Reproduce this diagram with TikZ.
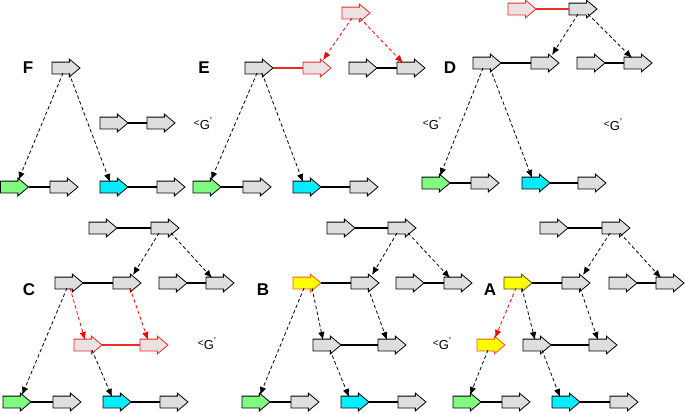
\documentclass[tikz,border=0pt]{standalone}
\usepackage{fontspec}
\setmainfont{Liberation Sans}
\usetikzlibrary{shapes.arrows,arrows.meta,calc}
\definecolor{gfill}{RGB}{222,222,222}
\definecolor{rfill}{RGB}{236,226,226}
\definecolor{gngreen}{RGB}{128,250,128}
\definecolor{gncyan}{RGB}{0,238,255}
\definecolor{gnyellow}{RGB}{255,255,0}
\definecolor{redline}{RGB}{240,40,40}
\definecolor{orangeline}{RGB}{240,90,20}
\definecolor{oliveline}{RGB}{90,80,0}
\tikzset{
  gene/.style={single arrow, draw=black, line width=0.8pt, fill=gfill,
    minimum height=28pt, minimum width=0pt, inner xsep=0pt, inner ysep=5.5pt,
    single arrow head extend=3pt, single arrow tip angle=80,
    anchor=tail, outer sep=0pt},
  gred/.style={gene, draw=redline, fill=rfill},
  ggreen/.style={gene, fill=gngreen},
  gcyan/.style={gene, fill=gncyan},
  gyel/.style={gene, fill=gnyellow, draw=orangeline},
  gyeldark/.style={gene, fill=gnyellow, draw=oliveline},
  link/.style={line width=1.1pt},
  rlink/.style={link, draw=redline},
  dep/.style={dash pattern=on 3.5pt off 2.5pt, line width=0.8pt, -{Latex[length=8pt,width=6.5pt]}},
  rdep/.style={dep, color=red},
  plabel/.style={font=\bfseries\fontsize{17}{17}\selectfont, inner sep=0pt},
  glabel/.style={font=\fontsize{13}{13}\selectfont, inner sep=0pt}
}
\newcommand{\gsym}{\raisebox{3.5pt}{\fontsize{10}{10}\selectfont<}G\raisebox{5pt}{\fontsize{10}{10}\selectfont'}}
\begin{document}
\begin{tikzpicture}[x=1pt,y=-1pt]
\useasboundingbox (0,0) rectangle (685,413);

% ---------- Panel F ----------
\node[plabel] (lF) at (28,68) {F};
\node[gene] (F1) at (52,68) {};
\node[gene] (F2a) at (100,123) {};
\node[gene] (F2b) at (147,123) {};
\node[ggreen] (Fg) at (0.5,187) {};
\node[gene] (Fg2) at (50,187) {};
\node[gcyan] (Fc) at (100,187) {};
\node[gene] (Fc2) at (157,187) {};
\draw[link] (F2a.tip) -- (F2b.tail);
\draw[link] (Fg.tip) -- (Fg2.tail);
\draw[link] (Fc.tip) -- (Fc2.tail);
\draw[dep] ($(F1.tail)+(11,5)$) -- ($(Fg.tail)+(18,-7)$);
\draw[dep] ($(F1.tail)+(17,5)$) -- ($(Fc.tail)+(10,-5)$);
\node[glabel] (g1) at (203,124) {\gsym};

% ---------- Panel E ----------
\node[plabel] (lE) at (204,68) {E};
\node[gene] (E1) at (245,68) {};
\node[gred] (E2) at (303,68) {};
\node[gred] (Et) at (342,13) {};
\node[gene] (E3a) at (349,68) {};
\node[gene] (E3b) at (397,68) {};
\node[ggreen] (Eg) at (193,187) {};
\node[gene] (Eg2) at (243,187) {};
\node[gcyan] (Ec) at (293,187) {};
\node[gene] (Ec2) at (350,187) {};
\draw[rlink] (E1.tip) -- (E2.tail);
\draw[link] (E3a.tip) -- (E3b.tail);
\draw[link] (Eg.tip) -- (Eg2.tail);
\draw[link] (Ec.tip) -- (Ec2.tail);
\draw[rdep] ($(Et.tail)+(10,5)$) -- ($(E2.tail)+(20,-8)$);
\draw[rdep] ($(Et.tail)+(18,5)$) -- ($(E3b.tail)+(6,-5)$);
\draw[dep] ($(E1.tail)+(12,5)$) -- ($(Eg.tail)+(18,-7)$);
\draw[dep] ($(E1.tail)+(17,5)$) -- ($(Ec.tail)+(10,-5)$);

% ---------- Panel D ----------
\node[plabel] (lD) at (450,68) {D};
\node[gred] (Dt1) at (508,9) {};
\node[gene] (Dt2) at (569,9) {};
\node[gene] (D1) at (473,63) {};
\node[gene] (D2) at (531,63) {};
\node[gene] (D3a) at (577,63) {};
\node[gene] (D3b) at (624,63) {};
\node[ggreen] (Dg) at (422,183) {};
\node[gene] (Dg2) at (471,183) {};
\node[gcyan] (Dc) at (522,183) {};
\node[gene] (Dc2) at (578,183) {};
\draw[rlink] (Dt1.tip) -- (Dt2.tail);
\draw[link] (D1.tip) -- (D2.tail);
\draw[link] (D3a.tip) -- (D3b.tail);
\draw[link] (Dg.tip) -- (Dg2.tail);
\draw[link] (Dc.tip) -- (Dc2.tail);
\draw[dep] ($(Dt2.tail)+(9,5)$) -- ($(D2.tail)+(21,-8)$);
\draw[dep] ($(Dt2.tail)+(19,5)$) -- ($(D3b.tail)+(8,-5)$);
\draw[dep] ($(D1.tail)+(10,5)$) -- ($(Dg.tail)+(18,-7)$);
\draw[dep] ($(D1.tail)+(17,5)$) -- ($(Dc.tail)+(10,-5)$);
\node[glabel] (g2) at (432,124) {\gsym};
\node[glabel] (g3) at (613,125) {\gsym};

% ---------- Panel C ----------
\node[plabel] (lC) at (29,290) {C};
\node[gene] (Ct1) at (89,228) {};
\node[gene] (Ct2) at (151,228) {};
\node[gene] (C1) at (55,283) {};
\node[gene] (C2) at (113,283) {};
\node[gene] (C3a) at (159,283) {};
\node[gene] (C3b) at (206,283) {};
\node[gred] (Cr1) at (74,345) {};
\node[gred] (Cr2) at (140,345) {};
\node[ggreen] (Cg) at (3,402) {};
\node[gene] (Cg2) at (53,402) {};
\node[gcyan] (Cc) at (103,402) {};
\node[gene] (Cc2) at (160,402) {};
\draw[link] (Ct1.tip) -- (Ct2.tail);
\draw[link] (C1.tip) -- (C2.tail);
\draw[link] (C3a.tip) -- (C3b.tail);
\draw[rlink] (Cr1.tip) -- (Cr2.tail);
\draw[link] (Cg.tip) -- (Cg2.tail);
\draw[link] (Cc.tip) -- (Cc2.tail);
\draw[dep] ($(Ct2.tail)+(8,5)$) -- ($(C2.tail)+(20,-8)$);
\draw[dep] ($(Ct2.tail)+(20,5)$) -- ($(C3b.tail)+(6,-5)$);
\draw[rdep] ($(C1.tail)+(15,5)$) -- ($(Cr1.tail)+(11,-5)$);
\draw[rdep] ($(C2.tail)+(17,5)$) -- ($(Cr2.tail)+(8,-5)$);
\draw[dep] ($(C1.tail)+(12,5)$) -- ($(Cg.tail)+(19,-7)$);
\draw[dep] ($(Cr1.tail)+(18,5)$) -- ($(Cc.tail)+(9,-5)$);
\node[glabel] (g4) at (207,344) {\gsym};

% ---------- Panel B ----------
\node[plabel] (lB) at (263,290) {B};
\node[gene] (Bt1) at (327,228) {};
\node[gene] (Bt2) at (388,228) {};
\node[gyel] (B1) at (293,283) {};
\node[gene] (B2) at (351,283) {};
\node[gene] (B3a) at (396,283) {};
\node[gene] (B3b) at (444,283) {};
\node[gene] (Br1) at (313,345) {};
\node[gene] (Br2) at (378,345) {};
\node[ggreen] (Bg) at (242,402) {};
\node[gene] (Bg2) at (291,402) {};
\node[gcyan] (Bc) at (341,402) {};
\node[gene] (Bc2) at (398,402) {};
\draw[link] (Bt1.tip) -- (Bt2.tail);
\draw[link] (B1.tip) -- (B2.tail);
\draw[link] (B3a.tip) -- (B3b.tail);
\draw[link] (Br1.tip) -- (Br2.tail);
\draw[link] (Bg.tip) -- (Bg2.tail);
\draw[link] (Bc.tip) -- (Bc2.tail);
\draw[dep] ($(Bt2.tail)+(9,5)$) -- ($(B2.tail)+(21,-8)$);
\draw[dep] ($(Bt2.tail)+(20,5)$) -- ($(B3b.tail)+(6,-5)$);
\draw[dep] ($(B1.tail)+(19,5)$) -- ($(Br1.tail)+(10,-5)$);
\draw[dep] ($(B2.tail)+(17,5)$) -- ($(Br2.tail)+(9,-5)$);
\draw[dep] ($(B1.tail)+(11,5)$) -- ($(Bg.tail)+(18,-7)$);
\draw[dep] ($(Br1.tail)+(17,5)$) -- ($(Bc.tail)+(8,-5)$);
\node[glabel] (g5) at (442,344) {\gsym};

% ---------- Panel A ----------
\node[plabel] (lA) at (490,290) {A};
\node[gene] (At1) at (540,228) {};
\node[gene] (At2) at (602,228) {};
\node[gyeldark] (A1) at (504,283) {};
\node[gene] (A2) at (562,283) {};
\node[gene] (A3a) at (609,283) {};
\node[gene] (A3b) at (656,283) {};
\node[gyel] (Ay) at (477,345) {};
\node[gene] (Ar1) at (523,345) {};
\node[gene] (Ar2) at (589,345) {};
\node[ggreen] (Ag) at (453,402) {};
\node[gene] (Ag2) at (502,402) {};
\node[gcyan] (Ac) at (552,402) {};
\node[gene] (Ac2) at (610,402) {};
\draw[link] (At1.tip) -- (At2.tail);
\draw[link] (A1.tip) -- (A2.tail);
\draw[link] (A3a.tip) -- (A3b.tail);
\draw[link] (Ar1.tip) -- (Ar2.tail);
\draw[link] (Ag.tip) -- (Ag2.tail);
\draw[link] (Ac.tip) -- (Ac2.tail);
\draw[dep] ($(At2.tail)+(8,5)$) -- ($(A2.tail)+(21,-8)$);
\draw[dep] ($(At2.tail)+(18,5)$) -- ($(A3b.tail)+(5,-5)$);
\draw[rdep] ($(A1.tail)+(12,5)$) -- ($(Ay.tail)+(18,-7)$);
\draw[dep] ($(A1.tail)+(18,5)$) -- ($(Ar1.tail)+(12,-5)$);
\draw[dep] ($(A2.tail)+(18,5)$) -- ($(Ar2.tail)+(9,-5)$);
\draw[dep] ($(Ay.tail)+(11,5)$) -- ($(Ag.tail)+(17,-7)$);
\draw[dep] ($(Ar1.tail)+(19,5)$) -- ($(Ac.tail)+(8,-5)$);
\end{tikzpicture}
\end{document}
